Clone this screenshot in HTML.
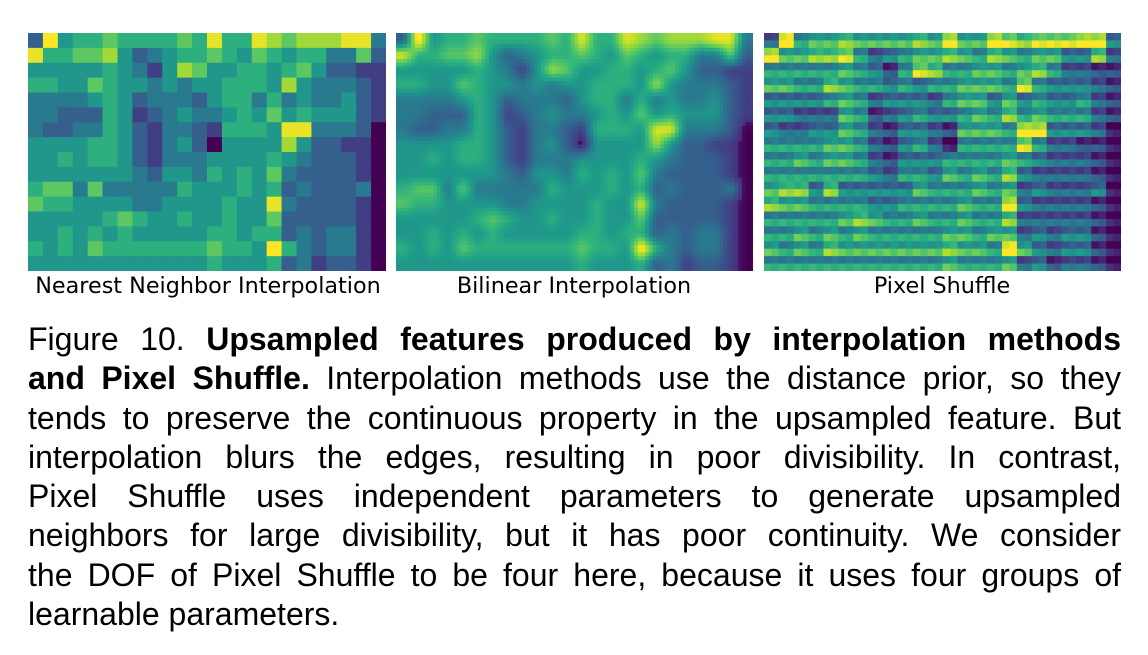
<!DOCTYPE html>
<html><head><meta charset="utf-8"><style>
body{margin:0;width:1148px;height:655px;background:#fff;overflow:hidden;position:relative;font-family:"Liberation Sans",Arial,sans-serif}
svg.hm{position:absolute;top:33px}
.lbl{position:absolute;top:273px;font-family:"DejaVu Sans",sans-serif;font-size:22.3px;color:#000;text-align:center;width:400px}
.cap{position:absolute;left:28px;width:1093px;top:320px;font-size:32px;line-height:39.3px;color:#000}
.ln{display:block;text-align:justify;text-align-last:justify;white-space:nowrap;height:39.3px}
.ln.last{text-align-last:left}
</style></head><body>
<svg class="hm" id="hm1" style="left:28px" width="358" height="238"></svg>
<svg class="hm" id="hm2" style="left:396px" width="357" height="238"></svg>
<svg class="hm" id="hm3" style="left:764px" width="357" height="238"></svg>
<div class="lbl" style="left:8px">Nearest Neighbor Interpolation</div>
<div class="lbl" style="left:374px">Bilinear Interpolation</div>
<div class="lbl" style="left:742px">Pixel Shuffle</div>
<div class="cap">
<span class="ln">Figure 10. <b>Upsampled features produced by interpolation methods</b></span>
<span class="ln"><b>and Pixel Shuffle.</b> Interpolation methods use the distance prior, so they</span>
<span class="ln">tends to preserve the continuous property in the upsampled feature. But</span>
<span class="ln">interpolation blurs the edges, resulting in poor divisibility. In contrast,</span>
<span class="ln">Pixel Shuffle uses independent parameters to generate upsampled</span>
<span class="ln">neighbors for large divisibility, but it has poor continuity. We consider</span>
<span class="ln">the DOF of Pixel Shuffle to be four here, because it uses four groups of</span>
<span class="ln last">learnable parameters.</span>
</div>
<script>
const gridRows = [
"294556555565855876777883",
"855667423455654654553362",
"444445431476445545642211",
"554465443434455547433321",
"333345423332455353433421",
"332225412343345464544421",
"322335421332155548833320",
"444455421342044447422110",
"445455421333444454322210",
"444444432443545463222210",
"566363333354445452322230",
"655444433444454483222210",
"444445654454454462222210",
"445454544444554552323310",
"545465555555655495323310",
"444444444444544452312210"];
const shuffleOffsets = [-1.6, -1.0, 1.6, 1.0];
const viridis = ["#440154","#482878","#3e4989","#31688e","#26828e","#1f9e89","#35b779","#6ece58","#b5de2b","#fde725"];
function col(v){
  v=Math.max(0,Math.min(9,v));
  const i=Math.min(8,Math.floor(v)),t=v-i;
  const a=viridis[i],b=viridis[i+1];
  const p=(h,k)=>parseInt(h.substr(1+2*k,2),16);
  let s="rgb(";
  for(let k=0;k<3;k++){s+=Math.round(p(a,k)*(1-t)+p(b,k)*t)+(k<2?",":")");}
  return s;
}
const data=gridRows.map(r=>r.split("").map(Number));
const R=data.length,C=data[0].length;
const NS="http://www.w3.org/2000/svg";
function tone(v){return v<=0.5?v:v+0.7;}
function draw(id,w,h,nr,nc,f,name){
  const svg=document.getElementById(id);
  const cw=w/nc,ch=h/nr;
  for(let r=0;r<nr;r++)for(let c=0;c<nc;c++){
    const el=document.createElementNS(NS,"rect");
    
    
    el.setAttribute("x",(c*cw).toFixed(2));el.setAttribute("y",(r*ch).toFixed(2));
    el.setAttribute("width",(cw+0.6).toFixed(2));el.setAttribute("height",(ch+0.6).toFixed(2));
    el.setAttribute("fill",col(f(r,c)));
    svg.appendChild(el);
  }
}
draw("hm1",358,238,R,C,(r,c)=>tone(data[r][c]),"nn-cell");
const up=4;
draw("hm2",357,238,R*up,C*up,(r,c)=>{
  let y=(r+0.5)/up-0.5,x=(c+0.5)/up-0.5;
  y=Math.max(0,Math.min(R-1,y));x=Math.max(0,Math.min(C-1,x));
  const y0=Math.floor(y),x0=Math.floor(x),y1=Math.min(R-1,y0+1),x1=Math.min(C-1,x0+1);
  const ty=y-y0,tx=x-x0;
  return tone(data[y0][x0]*(1-ty)*(1-tx)+data[y0][x1]*(1-ty)*tx+data[y1][x0]*ty*(1-tx)+data[y1][x1]*ty*tx);
},"bilinear-cell");
draw("hm3",357,238,R*2,C*2,(r,c)=>tone(data[r>>1][c>>1])+shuffleOffsets[(r%2)*2+(c%2)]*0.8,"shuffle-cell");
</script>
</body></html>
